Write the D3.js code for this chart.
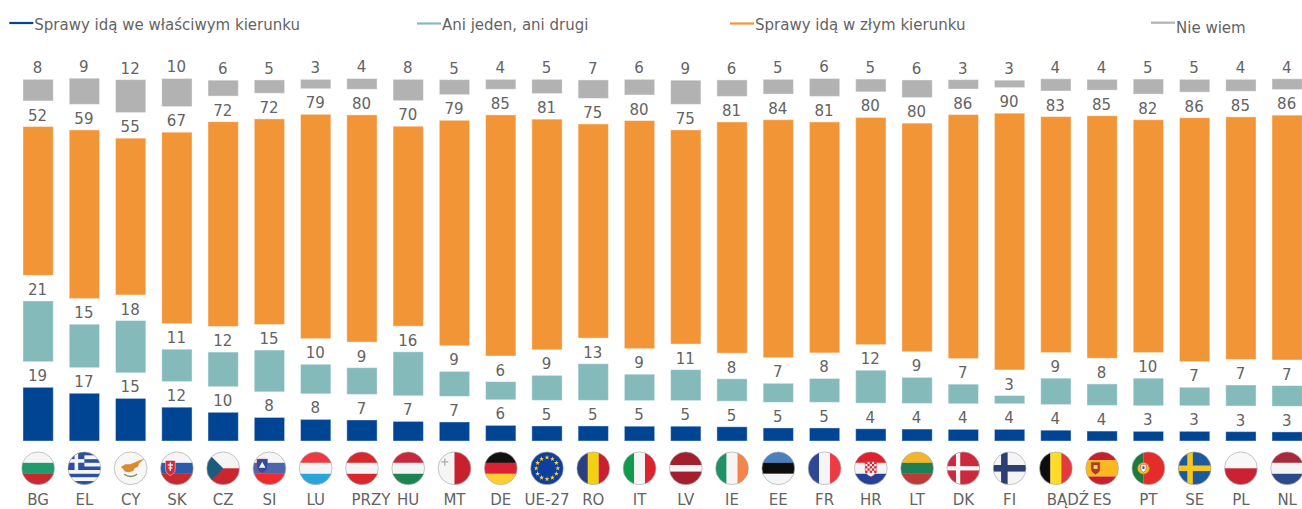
<!DOCTYPE html>
<html>
<head>
<meta charset="utf-8">
<script src="https://cdn.jsdelivr.net/npm/d3@7"></script>
<style>
  html, body { margin: 0; padding: 0; background: #fff; overflow: hidden; }
  text { font-family: "DejaVu Sans", Verdana, sans-serif; fill: #636363; }
</style>
</head>
<body>
<div id="chart"></div>
<script>
var categories = ['BG','EL','CY','SK','CZ','SI','LU','PRZY','HU','MT','DE','UE-27','RO','IT','LV','IE','EE','FR','HR','LT','DK','FI','BĄDŹ','ES','PT','SE','PL','NL'];

// values, the printed labels are these rounded
var rightWay = [18.9,16.8,15,11.9,10.1,8.3,7.6,7.4,6.9,6.7,5.5,5.3,5.3,5.2,5.2,5,4.6,4.6,4.3,4.2,4.1,4.1,3.8,3.5,3.4,3.4,3.3,3.2];
var neither = [21.4,15.3,18.4,11.4,12.2,14.7,10.4,9.4,15.5,8.8,6.4,8.8,12.9,9.3,10.9,7.9,6.7,8.4,11.6,9.2,6.9,2.9,9.3,7.6,9.7,6.5,7.4,7.3];
var wrongWay = [52.4,59.4,55.2,67.4,72.1,72.4,79,80,70.4,79.4,84.9,81.2,75.4,80.3,75.4,81.4,83.8,81.3,80,80.49,85.9,90.4,83.1,85.4,82,85.9,85.4,86.2];
var dontKnow = [7.6,9.2,11.6,9.9,5.6,4.7,3.3,3.8,7.5,5.3,3.5,5,6.5,5.5,8.5,5.8,5.2,6.3,4.5,6.2,3.3,2.6,4.3,3.8,5.3,4.5,4.2,3.8];

var seriesKeys = ['rightWay','neither','wrongWay','dontKnow'];
var seriesNames = ['Sprawy idą we właściwym kierunku','Ani jeden, ani drugi','Sprawy idą w złym kierunku','Nie wiem'];
var seriesColors = ['#004494','#85BABB','#F29537','#B2B2B2'];

var width = 1302, height = 509;
var baseline = 441;
var gap = 25.6;     // white space between the stacked segments

var svg = d3.select('#chart').append('svg')
  .attr('width', width)
  .attr('height', height);

var rows = categories.map(function(c, i) {
  return { cat: c, rightWay: rightWay[i], neither: neither[i], wrongWay: wrongWay[i], dontKnow: dontKnow[i] };
});

var x = d3.scaleBand()
  .domain(categories)
  .range([15, 1310.3])
  .paddingInner(0.345)
  .paddingOuter(0.1725);

var y = d3.scaleLinear()
  .domain([0, 100])
  .range([baseline, baseline - 284]);

var stacked = d3.stack().keys(seriesKeys)(rows);

stacked.forEach(function(layer, s) {
  var g = svg.append('g').attr('class', 'series-' + layer.key);

  g.selectAll('rect')
    .data(layer)
    .enter()
    .append('rect')
    .attr('x', function(d) { return x(d.data.cat); })
    .attr('width', x.bandwidth())
    .attr('y', function(d) { return y(d[1]) - gap * s; })
    .attr('height', function(d) { return y(d[0]) - y(d[1]); })
    .attr('fill', seriesColors[s])
    .attr('stroke', '#fff')
    .attr('stroke-opacity', 0.4)
    .attr('stroke-width', 1);

  g.selectAll('text')
    .data(layer)
    .enter()
    .append('text')
    .attr('x', function(d) { return x(d.data.cat) + x.bandwidth() / 2 - 0.5; })
    .attr('y', function(d) { return y(d[1]) - gap * s - 6; })
    .attr('text-anchor', 'middle')
    .style('font-size', '15px')
    .text(function(d) { return Math.round(d.data[layer.key]); });
});

// legend
var legendX = [9.3, 417, 730, 1151];
var legendLineY = [23, 23.5, 23.5, 22.7];
var legendTextY = [29.5, 29.5, 29.5, 32.5];
var legendG = svg.append('g').attr('class', 'legend');
seriesNames.forEach(function(name, i) {
  legendG.append('line')
    .attr('x1', legendX[i]).attr('x2', legendX[i] + 24)
    .attr('y1', legendLineY[i]).attr('y2', legendLineY[i])
    .attr('stroke', seriesColors[i])
    .attr('stroke-width', 2.2);
  legendG.append('text')
    .attr('x', legendX[i] + 25)
    .attr('y', legendTextY[i])
    .style('font-size', '15px')
    .text(name);
});

// category axis, two long labels were left aligned in the original
var tickNudge = { 'PRZY': 9, 'BĄDŹ': 12 };
var axis = svg.append('g')
  .attr('transform', 'translate(0,' + 486 + ')')
  .call(d3.axisBottom(x).tickSize(0).tickPadding(9));
axis.select('.domain').remove();
axis.selectAll('text')
  .attr('font-family', null)
  .style('font-size', '15px')
  .attr('dy', '0.69em')
  .attr('dx', function(d) { return tickNudge[d] || 0; });

// flags, drawn in a -50..50 box and clipped to a circle
function hBands(g, colors, weights) {
  var total = d3.sum(weights || colors.map(function() { return 1; }));
  var pos = -50;
  colors.forEach(function(c, i) {
    var h = 100 * (weights ? weights[i] : 1) / total;
    g.append('rect').attr('x', -50).attr('y', pos).attr('width', 100).attr('height', h + 0.3).attr('fill', c);
    pos += h;
  });
}
function vBands(g, colors, weights) {
  var total = d3.sum(weights || colors.map(function() { return 1; }));
  var pos = -50;
  colors.forEach(function(c, i) {
    var w = 100 * (weights ? weights[i] : 1) / total;
    g.append('rect').attr('x', pos).attr('y', -50).attr('width', w + 0.3).attr('height', 100).attr('fill', c);
    pos += w;
  });
}
function box(g, bx, by, w, h, c) {
  g.append('rect').attr('x', bx).attr('y', by).attr('width', w).attr('height', h).attr('fill', c);
}
function cross(g, cx, cy, arm, c) {
  box(g, -50, cy - arm / 2, 100, arm, c);
  box(g, cx - arm / 2, -50, arm, 100, c);
}
function shield(g, sx, sy, w, h, c, stroke) {
  g.append('path')
    .attr('d', 'M' + (sx - w / 2) + ',' + sy + 'h' + w + 'v' + (h * 0.55) + 'Q' + (sx + w / 2) + ',' + (sy + h * 0.85) + ' ' + sx + ',' + (sy + h) +
      'Q' + (sx - w / 2) + ',' + (sy + h * 0.85) + ' ' + (sx - w / 2) + ',' + (sy + h * 0.55) + 'Z')
    .attr('fill', c)
    .attr('stroke', stroke || 'none')
    .attr('stroke-width', 1.5);
}

var flagDraw = {
  'BG': function(g) { hBands(g, ['#F5F5F5','#1F9B6D','#C8282E']); },
  'EL': function(g) {
    hBands(g, ['#2B4F9E','#F5F5F5','#2B4F9E','#F5F5F5','#2B4F9E','#F5F5F5','#2B4F9E','#F5F5F5','#2B4F9E']);
    box(g, -50, -50, 50, 55, '#2B4F9E');
    box(g, -50, -28, 50, 11, '#F5F5F5');
    box(g, -30, -50, 11, 55, '#F5F5F5');
  },
  'CY': function(g) {
    g.append('rect').attr('x', -50).attr('y', -50).attr('width', 100).attr('height', 100).attr('fill', '#F7F7F5');
    g.append('path')
      .attr('d', 'M-30,-4 L-16,-12 L-2,-12 L12,-18 L26,-24 L42,-30 L26,-15 L22,-5 L12,0 L8,8 L-6,12 L-18,10 L-22,3 Z')
      .attr('fill', '#DB8A2E');
    g.append('path')
      .attr('d', 'M-20,18 Q0,32 20,18')
      .attr('fill', 'none').attr('stroke', '#7E8F5E').attr('stroke-width', 4);
  },
  'SK': function(g) {
    hBands(g, ['#F5F5F5','#2B5CAB','#C8282E']);
    shield(g, -20, -24, 30, 46, '#D32A35', '#F5F5F5');
    box(g, -22, -18, 4, 26, '#F5F5F5');
    box(g, -28, -12, 16, 4, '#F5F5F5');
    box(g, -26, -3, 12, 4, '#F5F5F5');
  },
  'CZ': function(g) {
    hBands(g, ['#F5F5F5','#CB2530']);
    g.append('path').attr('d', 'M-50,-50 L0,0 L-50,50 Z').attr('fill', '#1B5B7E');
  },
  'SI': function(g) {
    hBands(g, ['#F5F5F5','#4A67AE','#EE2B2F']);
    shield(g, -22, -28, 32, 42, '#2F4C9E', '#E03A3A');
    g.append('path').attr('d', 'M-32,-2 L-22,-20 L-12,-2 Z').attr('fill', '#F5F5F5');
  },
  'LU': function(g) { hBands(g, ['#EE3A43','#F5F5F5','#2AA5DB']); },
  'PRZY': function(g) { hBands(g, ['#D8282C','#F5F5F5','#D8282C']); },
  'HU': function(g) { hBands(g, ['#C9283C','#F5F5F5','#1A8550']); },
  'MT': function(g) {
    vBands(g, ['#F5F5F5','#C8202F']);
    box(g, -31, -30, 3, 22, '#9A9A9A');
    box(g, -40, -21, 21, 3, '#9A9A9A');
  },
  'DE': function(g) { hBands(g, ['#111111','#DD2033','#FFCE33']); },
  'UE-27': function(g) {
    g.append('rect').attr('x', -50).attr('y', -50).attr('width', 100).attr('height', 100).attr('fill', '#0E3F9E');
    var star = d3.symbol().type(d3.symbolStar).size(70)();
    d3.range(12).forEach(function(k) {
      var a = k * Math.PI / 6;
      g.append('path')
        .attr('d', star)
        .attr('transform', 'translate(' + (33 * Math.sin(a)) + ',' + (-33 * Math.cos(a)) + ')')
        .attr('fill', '#FFD42A');
    });
  },
  'RO': function(g) { vBands(g, ['#2A3F82','#F4D013','#C8202F']); },
  'IT': function(g) { vBands(g, ['#0F9B4B','#F5F5F5','#D9232E']); },
  'LV': function(g) { hBands(g, ['#A21F2D','#F5F5F5','#A21F2D'], [2, 1, 2]); },
  'IE': function(g) { vBands(g, ['#1E9166','#F5F5F5','#F4844A']); },
  'EE': function(g) { hBands(g, ['#4A80BD','#0D0D0D','#F5F5F5']); },
  'FR': function(g) { vBands(g, ['#2F4797','#F5F5F5','#ED3A45']); },
  'HR': function(g) {
    hBands(g, ['#E0202F','#F5F5F5','#26419A']);
    shield(g, 0, -20, 34, 46, '#F5F5F5', '#D03030');
    d3.range(5).forEach(function(r) {
      d3.range(5).forEach(function(c) {
        if ((r + c) % 2 === 0) box(g, -17 + c * 6.8, -20 + r * 6.8, 6.8, 6.8, '#D8202C');
      });
    });
  },
  'LT': function(g) { hBands(g, ['#F3B62A','#1D7F54','#BE3A36']); },
  'DK': function(g) {
    g.append('rect').attr('x', -50).attr('y', -50).attr('width', 100).attr('height', 100).attr('fill', '#CC2A3C');
    cross(g, -16, 0, 13, '#F5F5F5');
  },
  'FI': function(g) {
    g.append('rect').attr('x', -50).attr('y', -50).attr('width', 100).attr('height', 100).attr('fill', '#F5F5F5');
    cross(g, -16, 0, 20, '#2B3F70');
  },
  'BĄDŹ': function(g) { vBands(g, ['#0D0D0D','#FDDB27','#E23A3F']); },
  'ES': function(g) {
    hBands(g, ['#C8202F','#FBB91E','#C8202F'], [1, 2, 1]);
    shield(g, -20, -18, 26, 36, '#B5382A', '#8A5A20');
    box(g, -26, -10, 12, 12, '#F0D080');
  },
  'PT': function(g) {
    vBands(g, ['#1C7A3E','#E52C2A'], [35, 65]);
    g.append('circle').attr('cx', -15).attr('cy', 0).attr('r', 18).attr('fill', '#F2C230').attr('stroke', '#A8722A').attr('stroke-width', 2);
    shield(g, -15, -12, 17, 24, '#F5F5F5', '#C8202F');
    box(g, -18, -6, 6, 8, '#2B4F9E');
  },
  'SE': function(g) {
    g.append('rect').attr('x', -50).attr('y', -50).attr('width', 100).attr('height', 100).attr('fill', '#1C5A9C');
    cross(g, -14, 0, 17, '#F6C81F');
  },
  'PL': function(g) { hBands(g, ['#F8F8F8','#CC2133']); },
  'NL': function(g) { hBands(g, ['#A82A3A','#F5F5F5','#2C4A8A']); }
};

var flagR = 16.4;
var flagY = 468.3;
var defs = svg.append('defs');
defs.append('clipPath').attr('id', 'flagClip')
  .append('circle').attr('r', 50);

var flagG = svg.append('g').attr('class', 'flags');
categories.forEach(function(c) {
  var g = flagG.append('g')
    .attr('transform', 'translate(' + (x(c) + x.bandwidth() / 2) + ',' + flagY + ') scale(' + (flagR / 50) + ')');
  var inner = g.append('g').attr('clip-path', 'url(#flagClip)');
  flagDraw[c](inner);
  g.append('circle').attr('r', 50).attr('fill', 'none').attr('stroke', '#A8A8A8').attr('stroke-width', 2);
});
</script>
</body>
</html>
